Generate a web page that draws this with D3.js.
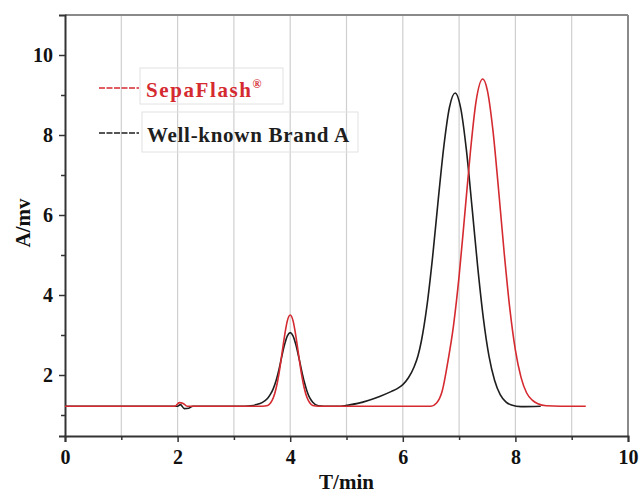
<!DOCTYPE html>
<html>
<head>
<meta charset="utf-8">
<script src="https://cdn.jsdelivr.net/npm/d3@7"></script>
<style>
  html, body { margin: 0; padding: 0; background: #fff; }
  svg { display: block; }
  text { font-family: "Liberation Serif", "Times New Roman", serif; font-weight: bold; }
</style>
</head>
<body>
<svg id="chart" width="640" height="494"></svg>
<script>
// ---- data ----
const seriesNames = ["SepaFlash\u00AE", "Well-known Brand A"];

const redT = [0, 1.95, 2.03, 2.1, 2.17, 3.3, 3.5, 3.6, 3.65, 3.7, 3.75, 3.8, 3.85, 3.9, 3.95, 4.0,
  4.05, 4.1, 4.15, 4.2, 4.25, 4.3, 4.35, 4.4, 4.5, 4.6, 6.5, 6.6, 6.7, 6.8, 6.9, 7.0, 7.1, 7.2, 7.3,
  7.42, 7.5, 7.6, 7.7, 7.8, 7.9, 8.0, 8.1, 8.2, 8.3, 8.4, 8.55, 8.8, 9.25];
const redA = [1.22, 1.22, 1.31, 1.29, 1.22, 1.22, 1.22, 1.24, 1.30, 1.43, 1.67, 2.03, 2.50, 2.98, 3.36, 3.50,
  3.36, 2.98, 2.50, 2.03, 1.67, 1.43, 1.30, 1.24, 1.22, 1.22, 1.22, 1.30, 1.60, 2.33, 3.23, 4.47, 6.01, 7.57, 8.83,
  9.40, 9.13, 8.13, 6.65, 5.07, 3.67, 2.62, 1.94, 1.55, 1.37, 1.28, 1.23, 1.22, 1.22];

const blackT = [0, 2.0, 2.05, 2.12, 2.2, 2.27, 3.2, 3.3, 3.4, 3.5, 3.6, 3.65, 3.7, 3.75, 3.8, 3.85, 3.9, 3.95,
  4.0, 4.05, 4.1, 4.15, 4.2, 4.25, 4.3, 4.35, 4.4, 4.5, 4.6, 4.9, 5.0, 5.2, 5.4, 5.6, 5.8, 5.9, 6.0, 6.1,
  6.2, 6.27, 6.33, 6.43, 6.53, 6.63, 6.73, 6.83, 6.93, 7.03, 7.13, 7.23, 7.33, 7.43, 7.53, 7.63, 7.73, 7.83,
  7.93, 8.1, 8.45];
const blackA = [1.22, 1.22, 1.26, 1.16, 1.17, 1.22, 1.22, 1.23, 1.26, 1.31, 1.42, 1.52, 1.66, 1.86, 2.13, 2.46, 2.76, 2.98,
  3.06, 2.98, 2.76, 2.46, 2.13, 1.83, 1.59, 1.42, 1.32, 1.23, 1.22, 1.22, 1.24, 1.29, 1.37, 1.47, 1.59, 1.66, 1.76, 1.93,
  2.20, 2.48, 2.85, 3.74, 4.96, 6.39, 7.73, 8.70, 9.05, 8.66, 7.62, 6.19, 4.71, 3.43, 2.48, 1.87, 1.51, 1.33,
  1.25, 1.21, 1.22];

const xTicks = [0, 2, 4, 6, 8, 10];
const xMinor = [1, 3, 5, 7, 9];
const yTicks = [2, 4, 6, 8, 10];
const yMinor = [1, 3, 5, 7, 9];
const gridX = [1, 2, 3, 4, 5, 6, 7, 8, 9];

// ---- layout ----
const svg = d3.select("#chart");
const L = 65, R = 628, T = 15, B = 436;
const x = d3.scaleLinear().domain([0, 10]).range([L, R]);
const y = d3.scaleLinear().domain([0.475, 11]).range([B, T]);

const RED = "#d42a30", BLACK = "#1e1e1e";

// grid
svg.append("g").selectAll("line").data(gridX).join("line")
  .attr("x1", d => x(d)).attr("x2", d => x(d)).attr("y1", T).attr("y2", B)
  .attr("stroke", "#cfcfcf").attr("stroke-width", 1.2);

// frame top/right
svg.append("line").attr("x1", L).attr("x2", R).attr("y1", T).attr("y2", T)
  .attr("stroke", "#8a8a8a").attr("stroke-width", 2);
svg.append("line").attr("x1", R).attr("x2", R).attr("y1", T).attr("y2", B)
  .attr("stroke", "#8a8a8a").attr("stroke-width", 2);

// axes
const xAxis = d3.axisBottom(x).tickValues(xTicks).tickSize(6).tickPadding(8).tickFormat(d3.format("d"));
svg.append("g").attr("transform", `translate(0,${B})`).call(xAxis);
svg.append("g").attr("transform", `translate(0,${B})`)
  .call(d3.axisBottom(x).tickValues(xMinor).tickSize(4).tickFormat(""))
  .call(g => g.select(".domain").remove());
const yAxis = d3.axisLeft(y).tickValues(yTicks).tickSize(6).tickPadding(6).tickFormat(d3.format("d"));
svg.append("g").attr("transform", `translate(${L},0)`).call(yAxis);
svg.append("g").attr("transform", `translate(${L},0)`)
  .call(d3.axisLeft(y).tickValues(yMinor).tickSize(4).tickFormat(""))
  .call(g => g.select(".domain").remove());

svg.selectAll(".domain").attr("stroke", "#333").attr("stroke-width", 2);
svg.selectAll(".tick line").attr("stroke", "#333").attr("stroke-width", 1.5);
svg.selectAll(".tick text").attr("font-size", 20).attr("fill", "#111")
  .attr("font-family", "Liberation Serif, serif").attr("font-weight", "bold");

// axis titles
svg.append("text").attr("x", (L + R) / 2).attr("y", 489).attr("text-anchor", "middle")
  .attr("font-size", 21).attr("fill", "#111").text("T/min");
svg.append("text").attr("transform", `translate(30,${y(5.8)}) rotate(-90)`).attr("text-anchor", "middle")
  .attr("font-size", 21).attr("fill", "#111").text("A/mv");

// lines
const line = d3.line().x(d => x(d[0])).y(d => y(d[1])).curve(d3.curveMonotoneX);
const blackData = blackT.map((t, i) => [t, blackA[i]]);
const redData = redT.map((t, i) => [t, redA[i]]);
svg.append("path").datum(blackData).attr("d", line).attr("fill", "none")
  .attr("stroke", BLACK).attr("stroke-width", 1.6);
svg.append("path").datum(redData).attr("d", line).attr("fill", "none")
  .attr("stroke", RED).attr("stroke-width", 1.6);

// legend
const legend = [
  { name: seriesNames[0], color: RED, ly: 88, box: [140, 68, 143, 36] },
  { name: seriesNames[1], color: BLACK, ly: 133, box: [142, 112, 216, 40] }
];
legend.forEach(l => {
  svg.append("rect").attr("x", l.box[0]).attr("y", l.box[1]).attr("width", l.box[2]).attr("height", l.box[3])
    .attr("fill", "none").attr("stroke", "#e2e2e2").attr("stroke-width", 1);
  svg.append("line").attr("x1", 99).attr("x2", 139).attr("y1", l.ly).attr("y2", l.ly)
    .attr("stroke", l.color).attr("stroke-width", 1.5).attr("stroke-dasharray", "6,1.5");
});
const t1 = svg.append("text").attr("x", 146).attr("y", 97).attr("font-size", 21).attr("fill", RED)
  .attr("letter-spacing", 1.6);
t1.append("tspan").text("SepaFlash");
t1.append("tspan").attr("font-size", 12).attr("dy", -9).attr("letter-spacing", 0).text("\u00AE");
svg.append("text").attr("x", 147).attr("y", 142).attr("font-size", 21).attr("fill", BLACK)
  .attr("letter-spacing", 0.7).text(seriesNames[1]);
</script>
</body>
</html>
